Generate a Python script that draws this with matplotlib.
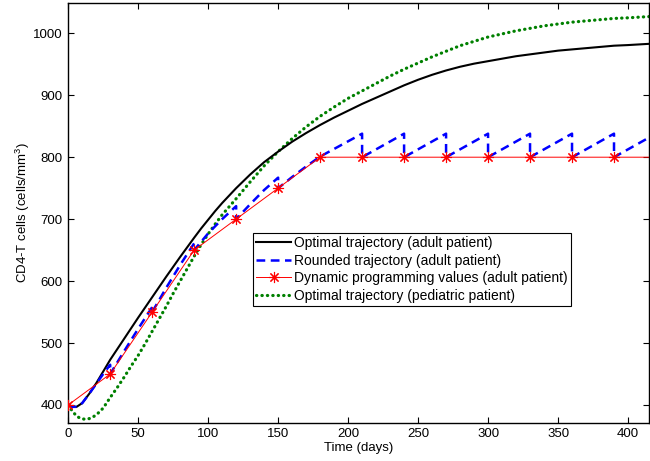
#!/usr/bin/env python

# CD4-T cell trajectories: optimal vs rounded vs dynamic programming

import matplotlib
matplotlib.use("Agg")
import matplotlib.pyplot as plt

plt.rcParams["font.family"] = ["Liberation Sans", "DejaVu Sans"]
plt.rcParams["mathtext.fontset"] = "custom"
plt.rcParams["mathtext.rm"] = "Liberation Sans"

# Optimal trajectory (adult patient)
t_adult = [0, 3, 6, 10, 15, 20, 25, 30, 40, 50, 60, 70, 80, 90, 95, 100, 105, 110, 115, 120,
           125, 130, 140, 150, 160, 170, 180, 190, 200, 210, 220, 230, 240, 250, 260,
           270, 280, 290, 300, 310, 320, 330, 340, 350, 360, 370, 380, 390, 400, 415]
v_adult = [400, 397, 397, 403, 418, 435, 454, 473, 507, 541, 574, 607, 639, 670, 685, 699, 713, 726, 738, 750,
           761, 772, 792, 809, 825, 839, 852, 864, 875, 886, 896, 906, 916, 925, 933,
           940, 946, 951, 955, 959, 963, 966, 969, 972, 974, 976, 978, 980, 981, 983]

# Rounded trajectory (adult patient), vertical drops at each 30-day step
t_round = [0, 3, 6, 10, 15, 20, 25, 30, 30, 40, 50, 60, 60, 70, 80, 90, 90,
           100, 110, 120, 120, 130, 140, 150, 150, 160, 170, 180,
           210, 210, 240, 240, 270, 270, 300, 300, 330, 330, 360, 360, 390, 390, 420]
v_round = [400, 397, 397, 403, 418, 434, 450, 465, 450, 487, 523, 558, 550, 589, 626, 661, 650,
           677, 700, 721, 700, 724, 747, 767, 750, 768, 785, 801,
           838, 800, 838, 800, 838, 800, 838, 800, 838, 800, 838, 800, 838, 800, 838]

# Dynamic programming values (adult patient)
t_dp = [0, 30, 60, 90, 120, 150, 180, 210, 240, 270, 300, 330, 360, 390, 420]
v_dp = [400, 450, 550, 650, 700, 750, 800, 800, 800, 800, 800, 800, 800, 800, 800]

# Optimal trajectory (pediatric patient)
t_ped = [0, 3, 6, 9, 12, 15, 18, 21, 25, 30, 35, 40, 45, 50, 55, 60, 65, 70, 75, 80,
         85, 90, 95, 100, 105, 110, 115, 120, 130, 140, 150, 160, 170, 180, 190, 200,
         210, 220, 230, 240, 250, 260, 270, 280, 290, 300, 310, 320, 330, 340, 350,
         360, 370, 380, 390, 400, 415]
v_ped = [400, 390, 382, 378, 377, 378, 381, 386, 395, 412, 428, 445, 463, 480, 499, 519, 539,
         559, 580, 600, 620, 640, 659, 676, 692, 707, 720, 733, 760, 786, 809, 830, 849,
         866, 881, 895, 907, 919, 931, 942, 952, 962, 971, 980, 987, 994, 999, 1004,
         1008, 1012, 1015, 1018, 1020, 1022, 1024, 1025, 1027]

x_ticks = [0, 50, 100, 150, 200, 250, 300, 350, 400]
y_ticks = [400, 500, 600, 700, 800, 900, 1000]

fig = plt.figure(figsize=(6.5, 4.61), dpi=100, facecolor="white")
ax = fig.add_axes([68.2 / 650, 1 - 422.7 / 461, (649 - 68.2) / 650, (422.7 - 2.7) / 461])

ax.plot(t_adult, v_adult, color="black", lw=1.5, zorder=3,
        label="Optimal trajectory (adult patient)")
ax.plot(t_round, v_round, color=(0, 0, 1), lw=1.8, dashes=(3.5, 2.2), zorder=4,
        label="Rounded trajectory (adult patient)")
ax.plot(t_dp, v_dp, color="red", lw=0.7, marker=(8, 2, 0), markersize=8,
        markeredgewidth=0.8, zorder=5,
        label="Dynamic programming values (adult patient)")
ax.plot(t_ped, v_ped, color=(0, 0.5, 0), lw=2.3, linestyle=(0, (0.1, 1.6)),
        dash_capstyle="round", zorder=2,
        label="Optimal trajectory (pediatric patient)")

ax.set_xlim(0, 415)
ax.set_ylim(371.4, 1049.4)
ax.set_xticks(x_ticks)
ax.set_yticks(y_ticks)
ax.tick_params(direction="in", top=True, right=True, length=4, width=0.8,
               labelsize=9.5, pad=4)
for s in ax.spines.values():
    s.set_linewidth(1.0)

ax.set_xlabel("Time (days)", fontsize=9.5, labelpad=1)
ax.set_ylabel("CD4-T cells (cells/mm$^3$)", fontsize=9.5, labelpad=1)

leg = ax.legend(loc="upper left", bbox_to_anchor=(0.318, 0.452), fontsize=10,
                frameon=True, fancybox=False, framealpha=1, edgecolor="black",
                handlelength=2.5, handletextpad=0.2, labelspacing=0.25,
                borderpad=0.25, borderaxespad=0)
leg.get_frame().set_linewidth(0.8)

fig.savefig("out.png", dpi=100)
